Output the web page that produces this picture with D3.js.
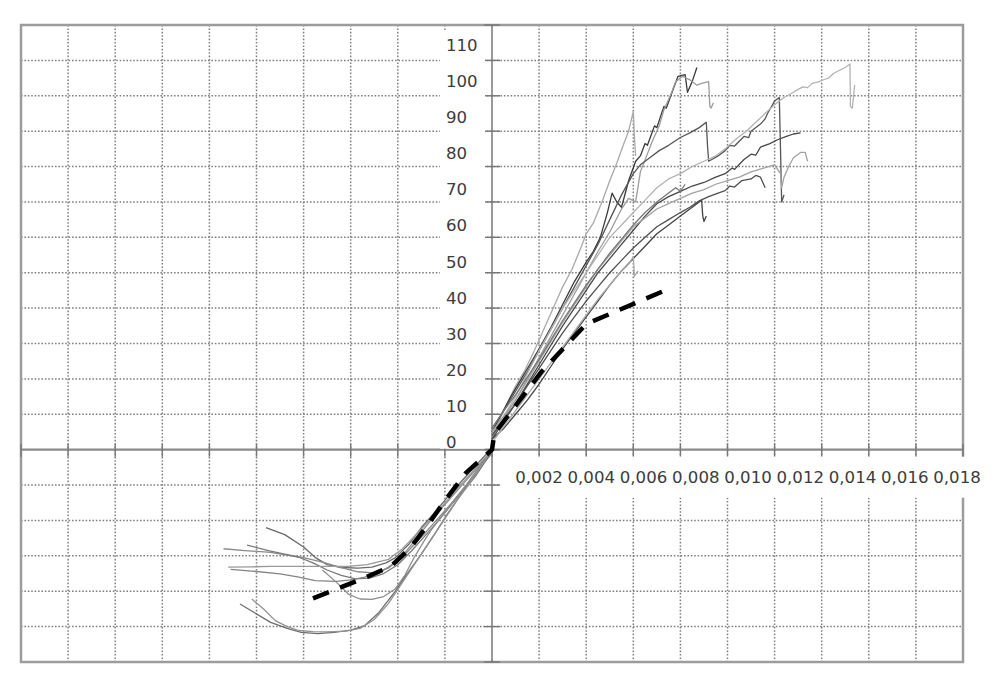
<!DOCTYPE html>
<html>
<head>
<meta charset="utf-8">
<script src="https://cdn.jsdelivr.net/npm/d3@7"></script>
<style>
  body { margin: 0; background: #fff; }
  svg { display: block; }
</style>
</head>
<body>
<div id="chart"></div>
<script>
// x = strain, y = load
let c1 = [[0,4],[0.0003,8],[0.0006,12.5],[0.001,18],[0.0014,22.5],[0.0018,28],[0.0022,34],[0.0027,41.5],[0.003,46],[0.0034,51],[0.0038,57.5],[0.004,61],[0.0043,64],[0.0047,70.5],[0.005,76],[0.0053,81],[0.0056,86.5],[0.0058,90],[0.006,95.5],[0.00605,88],[0.0061,83]];
let c2 = [[0,5],[0.0004,10],[0.0008,15],[0.0012,19.5],[0.0016,24],[0.002,28.5],[0.0025,34.5],[0.003,41],[0.0035,47.5],[0.004,53],[0.0043,56],[0.0046,60],[0.0049,67],[0.0051,72.5],[0.0053,70],[0.0055,68.5],[0.0058,76],[0.0061,81.5],[0.0063,83],[0.0065,86.5],[0.0066,86],[0.0069,91.5],[0.007,91],[0.0073,97],[0.0074,96.5],[0.0077,102],[0.0079,105.5],[0.0082,106],[0.0083,101],[0.0085,104],[0.0087,108]];
let c3 = [[0,3.5],[0.0005,9],[0.001,14],[0.0015,20],[0.002,26],[0.0025,32],[0.003,38],[0.0035,44],[0.004,50],[0.0045,56],[0.005,61.5],[0.0055,68],[0.0058,71],[0.0061,70],[0.0063,78.5],[0.0068,87],[0.0071,91.5],[0.0073,96],[0.0076,100.5],[0.0078,104],[0.0081,105.5],[0.0084,104.5],[0.0087,103],[0.0089,103.5],[0.0092,104],[0.00925,97],[0.0093,96.5],[0.0094,98]];
let c4 = [[0,6],[0.0005,11],[0.001,16.5],[0.0015,22],[0.002,28],[0.0025,34],[0.003,40],[0.0035,46],[0.004,52],[0.0045,58],[0.005,65],[0.0055,72],[0.006,78],[0.0063,80.5],[0.0067,82.5],[0.0071,84.5],[0.0075,86],[0.008,88.2],[0.0084,89.5],[0.0088,91],[0.0091,92.5],[0.00915,86],[0.0092,81.5],[0.0096,83],[0.0099,84.5],[0.0101,86],[0.0103,85.8],[0.0107,88.5],[0.0109,88.2],[0.011,90],[0.0114,92],[0.0116,93.5],[0.0117,95],[0.012,98.5],[0.0122,99.5],[0.01225,85],[0.0123,70],[0.0124,72]];
let c5 = [[0,4],[0.0005,9.5],[0.001,15],[0.0015,21.5],[0.002,28],[0.0025,34],[0.003,40],[0.0035,45],[0.004,50],[0.0045,55],[0.005,60],[0.0055,63.5],[0.006,67],[0.0065,70.5],[0.007,74],[0.0075,76.5],[0.008,78],[0.0085,80],[0.009,81.5],[0.0095,83],[0.0099,85],[0.0104,88],[0.0108,90],[0.0112,92.5],[0.0116,95],[0.012,97.5],[0.0124,99.5],[0.0128,101],[0.013,101.8],[0.0132,102.5],[0.0134,102.3],[0.0136,103.5],[0.0139,104],[0.0141,104.6],[0.0143,105],[0.0145,106.3],[0.0147,107],[0.015,108],[0.0152,109],[0.01522,97],[0.0153,96.5],[0.0154,103]];
let c6 = [[0,3],[0.0005,8],[0.001,13],[0.0015,18.5],[0.002,24],[0.0025,29.5],[0.003,35],[0.0035,40],[0.004,45],[0.0045,50],[0.005,54],[0.0055,58],[0.006,62],[0.0065,66],[0.007,69.5],[0.0075,71.5],[0.008,73],[0.0085,74.5],[0.009,75.5],[0.0095,77],[0.0099,78],[0.0102,79.6],[0.0103,79.2],[0.0107,82],[0.011,83.5],[0.0112,83.2],[0.0114,85.5],[0.0118,86.5],[0.0121,87.5],[0.0125,88.5],[0.0128,89.2],[0.0131,89.5]];
let c7 = [[0,5],[0.0005,9.5],[0.001,14],[0.0015,19.5],[0.002,25],[0.0025,30.5],[0.003,36],[0.0035,41],[0.004,46],[0.0045,51],[0.005,55],[0.0055,59],[0.006,63],[0.0065,65.5],[0.007,68],[0.0075,69.5],[0.008,71],[0.0085,72.5],[0.009,73.5],[0.0095,75],[0.01,76],[0.0105,77],[0.011,78.5],[0.0115,79.5],[0.012,80.5],[0.01225,78],[0.0123,74],[0.0124,77],[0.0126,80],[0.0128,82.5],[0.0131,84],[0.0133,84],[0.0134,81.5]];
let c8 = [[0,4],[0.0005,8.5],[0.001,13],[0.0015,18],[0.002,23],[0.0025,28],[0.003,33],[0.0035,37.5],[0.004,42],[0.0045,46],[0.005,50],[0.0055,53.5],[0.006,57],[0.0065,60],[0.007,63],[0.0075,65],[0.008,67],[0.0084,68.5],[0.0088,70.3],[0.0092,71.5],[0.0096,72.5],[0.0099,73.2],[0.0101,74.5],[0.0103,74.2],[0.0106,76],[0.011,76.5],[0.0112,77.5],[0.0114,77],[0.0115,75.5],[0.0116,74]];
let c9 = [[0,3],[0.0005,6],[0.001,10],[0.0015,14],[0.002,18.5],[0.0025,23.5],[0.003,28.5],[0.0035,33],[0.004,37.5],[0.0045,42],[0.005,46.5],[0.0055,50.5],[0.006,54],[0.0065,57.5],[0.007,61],[0.0075,63.5],[0.008,66],[0.0085,68.5],[0.0089,70.5],[0.00895,66],[0.009,64.5],[0.0091,66]];
let c10 = [[0,6],[0.0005,11],[0.001,15.5],[0.0015,20.5],[0.002,25.5],[0.0025,31],[0.003,36.5],[0.0035,41.5],[0.004,46.5],[0.0045,51],[0.005,55.5],[0.0055,59.5],[0.006,63.5],[0.0065,67],[0.007,70],[0.0075,72.5],[0.0078,74],[0.008,73],[0.0082,75]];
let c11 = [[0,2],[0.0005,6.5],[0.001,11],[0.0015,15.5],[0.002,20],[0.0025,24.5],[0.003,29],[0.0035,33.5],[0.004,38],[0.0045,42.5],[0.005,46.5],[0.0055,50.5],[0.0058,52.5],[0.006,54.5],[0.00605,49],[0.0062,50.5]];

let n1 = [[-0.0096,-22],[-0.0088,-24],[-0.008,-27.5],[-0.0075,-30.5],[-0.007,-32.5],[-0.0064,-33.3],[-0.0057,-33.5],[-0.0051,-33.2],[-0.0045,-32],[-0.0041,-30.5],[-0.0035,-26.5],[-0.003,-22],[-0.0024,-17.5],[-0.0019,-13.5],[-0.0013,-9],[-0.0007,-4.5],[-0.0002,-1],[0,0]];
let n2 = [[-0.0114,-28],[-0.0105,-28.5],[-0.0094,-29],[-0.0087,-29.8],[-0.008,-30.5],[-0.0072,-31.8],[-0.0064,-33.3],[-0.0057,-34.5],[-0.005,-34.8],[-0.0044,-33.5],[-0.0038,-30],[-0.0032,-25],[-0.0026,-20],[-0.002,-15.5],[-0.0014,-11],[-0.0008,-6.5],[-0.0003,-2.5],[0,-0.5]];
let n3 = [[-0.0104,-27],[-0.0095,-28.5],[-0.0088,-29.5],[-0.0082,-30.4],[-0.0076,-32],[-0.007,-34],[-0.0064,-35.5],[-0.0058,-36.5],[-0.0052,-36.3],[-0.0046,-35],[-0.004,-32.5],[-0.0034,-28.5],[-0.0028,-24],[-0.0022,-19.5],[-0.0016,-14.5],[-0.001,-9.5],[-0.0004,-4],[0,-1]];
let n4 = [[-0.0112,-33.2],[-0.0102,-33.1],[-0.0094,-33],[-0.0085,-33],[-0.0075,-33],[-0.0067,-33],[-0.0061,-33],[-0.0053,-32.5],[-0.0044,-31],[-0.0038,-28],[-0.0033,-24.5],[-0.0028,-21],[-0.0022,-16.5],[-0.0016,-12],[-0.001,-7.5],[-0.0004,-3],[0,-0.5]];
let n5 = [[-0.0111,-33.8],[-0.0102,-34.3],[-0.009,-35.1],[-0.0082,-36],[-0.0075,-37],[-0.0066,-37.2],[-0.006,-36.8],[-0.0054,-36],[-0.0048,-34.8],[-0.0044,-33.2],[-0.0039,-31],[-0.0034,-27.5],[-0.0029,-24],[-0.0023,-19.5],[-0.0017,-15],[-0.0011,-10],[-0.0005,-4.5],[0,0]];
let n6 = [[-0.0072,-34],[-0.0066,-37.5],[-0.0061,-40.8],[-0.0056,-42.2],[-0.0051,-42.3],[-0.0046,-41.5],[-0.0041,-39.3],[-0.0037,-35.5],[-0.0033,-30.4],[-0.0029,-26],[-0.0026,-22.9],[-0.0021,-18.5],[-0.0015,-13.5],[-0.0009,-8.5],[-0.0004,-4],[0,-0.5]];
let n7 = [[-0.0107,-43.6],[-0.0101,-46],[-0.0094,-48.8],[-0.0087,-50.5],[-0.0081,-51.6],[-0.0074,-52],[-0.0067,-51.6],[-0.006,-51],[-0.0054,-49.7],[-0.0048,-46],[-0.0041,-40],[-0.0036,-35],[-0.003,-29.5],[-0.0024,-23.5],[-0.0019,-18.2],[-0.0013,-12.5],[-0.0007,-7.5],[-0.0002,-2.5],[0,-0.5]];
let n8 = [[-0.0102,-42.2],[-0.0097,-45],[-0.0092,-48.3],[-0.0087,-50],[-0.0082,-51.1],[-0.0076,-51.4],[-0.007,-51.5],[-0.0062,-51.3],[-0.0056,-50.5],[-0.005,-48],[-0.0044,-43.5],[-0.0039,-38.5],[-0.0033,-32.5],[-0.0027,-26.5],[-0.0021,-20.5],[-0.0015,-14.5],[-0.0009,-9],[-0.0004,-4],[0,0]];

// bilinear model (dashed)
let modelX = [-0.0076, -0.0055, -0.0043, -0.0035, -0.0027, -0.0019, -0.0011, 0, 0.0001, 0.0021, 0.0040, 0.0076];
let modelY = [-42, -36.5, -33, -28, -21, -13.5, -6.5, 0, 4.5, 22, 35.5, 45.7];

let curves = [c1, c2, c3, c4, c5, c6, c7, c8, c9, c10, c11, n1, n2, n3, n4, n5, n6, n7, n8];
let shades = ['#a9a9a9', '#3a3a3a', '#9c9c9c', '#555', '#b3b3b3', '#474747', '#a2a2a2', '#505050', '#444', '#777', '#aaa',
    '#6a6a6a', '#8a8a8a', '#7a7a7a', '#999', '#858585', '#8e8e8e', '#6e6e6e', '#939393'];

let xTickLabels = [0.002, 0.004, 0.006, 0.008, 0.010, 0.012, 0.014, 0.016, 0.018];
let yTickLabels = [0, 10, 20, 30, 40, 50, 60, 70, 80, 90, 100, 110];

let width = 993, height = 678,
    frame = {left: 21, top: 25, right: 963, bottom: 662};

let svg = d3.select('#chart').append('svg')
    .attr('width', width)
    .attr('height', height);

let x = d3.scaleLinear().domain([-0.02, 0.02]).range([frame.left, frame.right]);
let y = d3.scaleLinear().domain([-60, 120]).range([frame.bottom, frame.top]);

// label positions sit on their own (slightly stretched) scales, like in the source picture
let xLab = d3.scaleLinear().domain([0.002, 0.018]).range([538.5, 956.5]);
let yLab = d3.scaleLinear().domain([0, 110]).range([442.5, 45]);

let grid_g = svg.append('g').attr('class', 'grid');

grid_g.selectAll('.vgrid')
    .data(d3.range(-9, 10).filter(k => k !== 0).map(k => k * 0.002))
    .join('line')
    .attr('class', 'vgrid')
    .attr('x1', d => x(d)).attr('x2', d => x(d))
    .attr('y1', frame.top).attr('y2', frame.bottom)
    .attr('stroke', '#808080')
    .attr('stroke-width', 1.5)
    .attr('stroke-dasharray', '1.6,1.8');

grid_g.selectAll('.hgrid')
    .data(d3.range(-5, 12).filter(k => k !== 0).map(k => k * 10))
    .join('line')
    .attr('class', 'hgrid')
    .attr('x1', frame.left).attr('x2', frame.right)
    .attr('y1', d => y(d)).attr('y2', d => y(d))
    .attr('stroke', '#808080')
    .attr('stroke-width', 1.5)
    .attr('stroke-dasharray', '1.6,1.8');

// outer frame
svg.append('rect')
    .attr('x', frame.left).attr('y', frame.top)
    .attr('width', frame.right - frame.left)
    .attr('height', frame.bottom - frame.top)
    .attr('fill', 'none')
    .attr('stroke', '#9c9c9c')
    .attr('stroke-width', 2.5);

// zero axes
svg.append('line')
    .attr('x1', frame.left).attr('x2', frame.right)
    .attr('y1', y(0)).attr('y2', y(0))
    .attr('stroke', '#8a8a8a')
    .attr('stroke-width', 2.2);

svg.append('line')
    .attr('x1', x(0)).attr('x2', x(0))
    .attr('y1', frame.top).attr('y2', frame.bottom)
    .attr('stroke', '#555')
    .attr('stroke-width', 1.2);

svg.append('g').selectAll('line')
    .data(d3.range(-6, 13).map(k => k * 10))
    .join('line')
    .attr('x1', x(0) - 8).attr('x2', x(0) + 8)
    .attr('y1', d => y(d)).attr('y2', d => y(d))
    .attr('stroke', '#777')
    .attr('stroke-width', 1.4);

svg.append('g').selectAll('line')
    .data(d3.range(-10, 11).map(k => k * 0.002))
    .join('line')
    .attr('x1', d => x(d)).attr('x2', d => x(d))
    .attr('y1', y(0) - 6).attr('y2', y(0) + 7)
    .attr('stroke', '#777')
    .attr('stroke-width', 1.4);

// white boxes behind the tick labels
svg.append('rect')
    .attr('x', 440).attr('y', 31)
    .attr('width', 45).attr('height', y(0) - 32)
    .attr('fill', '#fff');

svg.append('rect')
    .attr('x', 500).attr('y', y(0) + 7)
    .attr('width', width - 500).attr('height', 41)
    .attr('fill', '#fff');

// test curves
let line = d3.line()
    .x(d => x(d[0]))
    .y(d => y(d[1]));

svg.append('g').selectAll('path')
    .data(curves)
    .join('path')
    .attr('d', line)
    .attr('fill', 'none')
    .attr('stroke', (d, i) => shades[i])
    .attr('stroke-width', 1.3)
    .attr('stroke-linejoin', 'round');

// model
svg.append('path')
    .datum(modelX.map((v, i) => [v, modelY[i]]))
    .attr('d', line)
    .attr('fill', 'none')
    .attr('stroke', '#000')
    .attr('stroke-width', 4.5)
    .attr('stroke-dasharray', '17,12');

// tick labels
let fmt = d => d3.format('.3f')(d).replace('.', ',');

let xAxis_g = svg.append('g')
    .attr('transform', `translate(0, ${y(0) + 21.5})`)
    .call(d3.axisBottom(xLab).tickValues(xTickLabels).tickFormat(fmt).tickSize(0).tickPadding(0));

let yAxis_g = svg.append('g')
    .attr('transform', 'translate(446, 0)')
    .call(d3.axisRight(yLab).tickValues(yTickLabels).tickSize(0).tickPadding(0));

[xAxis_g, yAxis_g].forEach(g => {
    g.select('.domain').remove();
    g.selectAll('text')
        .attr('fill', '#3c3c3c')
        .style('font-family', '"DejaVu Sans", Verdana, sans-serif')
        .style('font-size', '16.6px');
});
</script>
</body>
</html>
